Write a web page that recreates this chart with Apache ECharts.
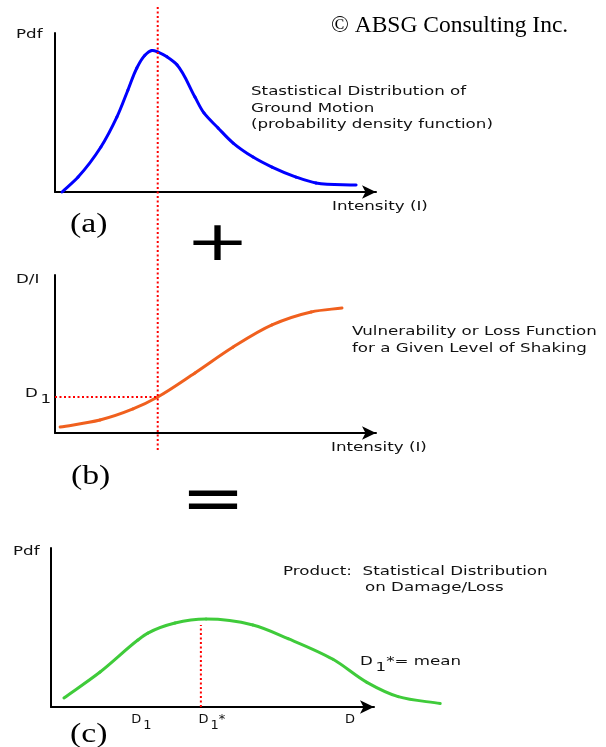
<!DOCTYPE html>
<html>
<head>
<meta charset="utf-8">
<title>Ground motion x vulnerability = loss</title>
<script src="https://cdn.jsdelivr.net/npm/echarts@6/dist/echarts.min.js"></script>
<style>
    html, body { margin: 0; padding: 0; background: #fff; }
    #chart { width: 606px; height: 747px; }
</style>
</head>
<body>
<div id="chart"></div>
<script>
// (a) statistical distribution of ground motion
const intensityA = [0.22, 0.72, 1.43, 1.93, 2.27, 2.55, 2.80, 3.02, 3.21, 3.49, 3.80, 4.36, 4.64, 5.08, 5.55, 6.17, 6.76, 7.51, 8.13, 9.38];
const pdfA = [0.0, 0.094, 0.283, 0.472, 0.64, 0.78, 0.86, 0.89, 0.88, 0.85, 0.80, 0.597, 0.497, 0.403, 0.308, 0.22, 0.157, 0.094, 0.057, 0.044];

// (b) vulnerability / loss function
const intensityB = [0.16, 1.40, 2.43, 3.2, 4.36, 5.55, 6.76, 7.98, 8.94];
const lossB = [0.038, 0.082, 0.152, 0.228, 0.38, 0.544, 0.684, 0.766, 0.791];

// (c) product: distribution on damage/loss
const damageC = [0.40, 1.52, 2.69, 3.0, 3.84, 4.80, 6.25, 7.34, 8.73, 9.78, 10.75, 12.05];
const pdfC = [0.057, 0.22, 0.421, 0.465, 0.528, 0.553, 0.516, 0.43, 0.30, 0.155, 0.065, 0.022];

// reference values (dotted red lines)
const intensityI1 = 3.2;
const lossD1 = 0.228;
const damageMean = 4.64;
const pdfAtMean = 0.516;

// tick labels on the D axis of (c)
const damageTicks = [2.8, 4.98, 9.26];
const damageTickLabels = ['D1', 'D1*', 'D'];

const sans = 'DejaVu Sans';
const serif = 'Liberation Serif';
const stretch = 1.39;

function zip(xs, ys) {
    return xs.map((x, i) => [x, ys[i]]);
}

// "D1..." -> rich text with a lowered 1
function subD(t) {
    const m = t.match(/^D1(.*)$/);
    if (!m) return '{b|' + t + '}';
    return '{b|D}{s|1}' + (m[1] ? '{b|' + m[1] + '}' : '');
}

function richSub(size) {
    return {
        b: { fontSize: size, fontFamily: sans, color: '#111', verticalAlign: 'top', lineHeight: size + 1 },
        s: { fontSize: size, fontFamily: sans, color: '#111', verticalAlign: 'top', lineHeight: size + 1, padding: [6, 0, 0, 2] }
    };
}

function plotAxes(gridIndex, visible) {
    return {
        x: {
            type: 'value', gridIndex: gridIndex, min: 0, max: 10, show: visible,
            axisLine: {
                show: true, onZero: false,
                lineStyle: { color: '#000', width: 2 },
                symbol: ['none', 'arrow'], symbolSize: [10, 14]
            },
            axisTick: { show: false }, axisLabel: { show: false }, splitLine: { show: false }
        },
        y: {
            type: 'value', gridIndex: gridIndex, min: 0, max: 1, show: visible,
            axisLine: { show: true, onZero: false, lineStyle: { color: '#000', width: 2 } },
            axisTick: { show: false }, axisLabel: { show: false }, splitLine: { show: false }
        }
    };
}

function unit(v) {
    const l = Math.hypot(v[0], v[1]) || 1;
    return [v[0] / l, v[1] / l];
}

// tangent at pixel point k: mean of the unit directions of its two segments
function tangent(px, k) {
    const n = px.length;
    const a = k > 0 ? unit([px[k][0] - px[k - 1][0], px[k][1] - px[k - 1][1]]) : null;
    const b = k < n - 1 ? unit([px[k + 1][0] - px[k][0], px[k + 1][1] - px[k][1]]) : null;
    if (!a) return b;
    if (!b) return a;
    return unit([a[0] + b[0], a[1] + b[1]]);
}

// smooth curve: one cubic piece per data point, placed with api.coord
function curve(name, xs, ys, gridIndex, color) {
    const pts = zip(xs, ys);
    return {
        name: name, type: 'custom', coordinateSystem: 'cartesian2d',
        xAxisIndex: gridIndex, yAxisIndex: gridIndex,
        data: pts, encode: { x: 0, y: 1 }, clip: false, silent: true,
        renderItem: function (params, api) {
            const i = params.dataIndex;
            if (i >= pts.length - 1) return null;
            const px = pts.map(p => api.coord(p));
            const p1 = px[i], p2 = px[i + 1];
            const d = Math.hypot(p2[0] - p1[0], p2[1] - p1[1]) / 3;
            const t1 = tangent(px, i), t2 = tangent(px, i + 1);
            return {
                type: 'bezierCurve',
                shape: {
                    x1: p1[0], y1: p1[1], x2: p2[0], y2: p2[1],
                    cpx1: p1[0] + t1[0] * d, cpy1: p1[1] + t1[1] * d,
                    cpx2: p2[0] - t2[0] * d, cpy2: p2[1] - t2[1] * d
                },
                style: { stroke: color, lineWidth: 3, fill: 'none', lineCap: 'round' }
            };
        }
    };
}

function dotted(name, points, gridIndex) {
    return {
        name: name, type: 'line', xAxisIndex: gridIndex, yAxisIndex: gridIndex,
        data: points, showSymbol: false, silent: true, clip: false,
        lineStyle: { color: '#ff0000', width: 2, type: [2, 2.5] }
    };
}

function note(x, y, text, extra) {
    return {
        type: 'text', x: x, y: y, scaleX: stretch, silent: true,
        style: Object.assign({
            text: text, fontSize: 12, fontFamily: sans, fill: '#111',
            align: 'left', textAlign: 'left', verticalAlign: 'middle', textVerticalAlign: 'middle'
        }, extra || {})
    };
}

function serifNote(x, y, text, size, sx) {
    return {
        type: 'text', x: x, y: y, scaleX: sx, silent: true,
        style: {
            text: text, fontSize: size, fontFamily: serif, fill: '#000',
            align: 'left', textAlign: 'left', verticalAlign: 'middle', textVerticalAlign: 'middle'
        }
    };
}

function sign(x, y, text, sy) {
    return {
        type: 'text', x: x, y: y, scaleY: sy, silent: true,
        style: {
            text: text, fontSize: 77, fontFamily: sans, fill: '#000',
            align: 'center', textAlign: 'center', verticalAlign: 'middle', textVerticalAlign: 'middle'
        }
    };
}

const axA = plotAxes(0, true);
const axB = plotAxes(1, true);
const axC = plotAxes(2, true);
const axGuide = plotAxes(3, false);

// labels of the D axis
axC.x.axisLabel = {
    show: true,
    customValues: damageTicks,
    margin: 6,
    formatter: function (v) {
        const i = damageTicks.findIndex(t => Math.abs(t - v) < 1e-6);
        return i < 0 ? '' : subD(damageTickLabels[i]);
    },
    rich: richSub(13)
};

const option = {
    animation: false,
    backgroundColor: '#fff',
    textStyle: { fontFamily: sans },
    grid: [
        { left: 55, top: 33, width: 321, height: 159, containLabel: false, outerBoundsMode: 'none' },
        { left: 55, top: 275, width: 321, height: 158, containLabel: false, outerBoundsMode: 'none' },
        { left: 51, top: 548, width: 323, height: 159, containLabel: false, outerBoundsMode: 'none' },
        // I1 guide, shares the intensity scale of (a) and (b)
        { left: 55, top: 5, width: 321, height: 445, containLabel: false, outerBoundsMode: 'none' }
    ],
    xAxis: [axA.x, axB.x, axC.x, axGuide.x],
    yAxis: [axA.y, axB.y, axC.y, axGuide.y],
    series: [
        dotted('I1', [[intensityI1, 0], [intensityI1, 1]], 3),
        dotted('D1', [[0, lossD1], [intensityI1, lossD1]], 1),
        dotted('D1*', [[damageMean, 0], [damageMean, pdfAtMean]], 2),
        curve('Ground motion pdf', intensityA, pdfA, 0, '#0000ff'),
        curve('Loss function', intensityB, lossB, 1, '#f0601e'),
        curve('Damage pdf', damageC, pdfC, 2, '#3fcb3a')
    ],
    graphic: [
        serifNote(331, 26, '\u00a9 ABSG Consulting Inc.', 23.5, 1),

        note(16, 35, 'Pdf'),
        note(251, 92, 'Stastistical Distribution of'),
        note(251, 108.5, 'Ground Motion'),
        note(251, 125, '(probability density function)'),
        note(332, 207, 'Intensity (I)'),
        serifNote(70, 225, '(a)', 27, 1.25),
        sign(217.5, 245.5, '+', 0.71),

        note(16, 280, 'D/I'),
        note(352, 332, 'Vulnerability or Loss Function'),
        note(352, 349, 'for a Given Level of Shaking'),
        note(25, 388, subD('D1'), { rich: richSub(12), verticalAlign: 'top', textVerticalAlign: 'top' }),
        note(331, 448, 'Intensity (I)'),
        serifNote(71, 477, '(b)', 27, 1.25),
        sign(213, 502.5, '=', 0.85),

        note(13, 552, 'Pdf'),
        note(283, 572, 'Product:  Statistical Distribution'),
        note(365, 588, 'on Damage/Loss'),
        note(360, 656, subD('D1*= mean'), { rich: richSub(12), verticalAlign: 'top', textVerticalAlign: 'top' }),
        serifNote(70, 735, '(c)', 27, 1.25)
    ]
};

const chart = echarts.init(document.getElementById('chart'));
chart.setOption(option);
</script>
</body>
</html>
